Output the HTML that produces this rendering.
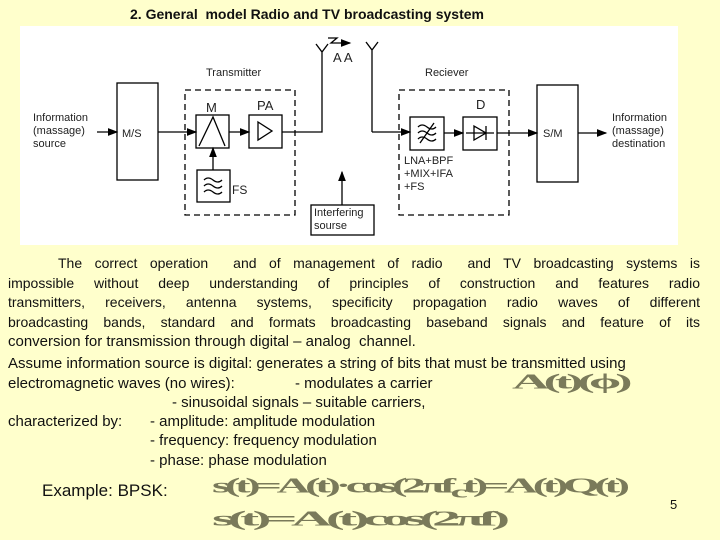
<!DOCTYPE html><html><head><style>
body{margin:0;width:720px;height:540px;background:#ffffcc;position:relative;overflow:hidden;font-family:"Liberation Sans",sans-serif;color:#111}
.t{position:absolute;white-space:nowrap}
.p{position:absolute;left:8px;width:692px;font-size:14px;text-align:justify;text-align-last:justify;white-space:nowrap}
.f{position:absolute;color:#7a7a5a;font-family:"Liberation Serif",serif;font-weight:bold;font-size:26px;letter-spacing:-3px;transform-origin:0 0}
</style></head><body>
<div class="t" style="left:130px;top:6px;font-size:14px;font-weight:bold">2. General&nbsp; model Radio and TV broadcasting system</div>
<svg style="position:absolute;left:0;top:0" width="720" height="540" font-family="Liberation Sans" font-size="11">
<defs><marker id="a" markerWidth="8" markerHeight="6" refX="7" refY="3" orient="auto"><path d="M0,0L8,3L0,6z" fill="#000"/></marker></defs>
<rect x="20" y="26" width="658" height="219" fill="#fff"/>
<g stroke="#000" fill="none" stroke-width="1.3">
<rect x="117" y="83" width="41" height="97"/>
<rect x="185" y="90" width="110" height="125" stroke-dasharray="6,4"/>
<rect x="196" y="115" width="33" height="33"/>
<path d="M199,146L213,117L225,146"/>
<rect x="249" y="115" width="33" height="33"/>
<path d="M258,122L272,131L258,140z"/>
<rect x="197" y="170" width="33" height="32"/>
<path d="M204,180q4,-4 9,0t9,0M204,186q4,-4 9,0t9,0M204,192q4,-4 9,0t9,0"/>
<path d="M97,132H117" marker-end="url(#a)"/>
<path d="M158,132H196" marker-end="url(#a)"/>
<path d="M229,132H249" marker-end="url(#a)"/>
<path d="M213,170V148" marker-end="url(#a)"/>
<path d="M282,132H322V52M316,44L322,52L328,44"/>
<path d="M372,132V50M366,42L372,50L378,42"/>
<path d="M328,38H337L331,43H350" marker-end="url(#a)"/>
<rect x="311" y="205" width="63" height="30"/>
<path d="M342,205V172" marker-end="url(#a)"/>
<rect x="399" y="90" width="110" height="125" stroke-dasharray="6,4"/>
<path d="M372,132H410" marker-end="url(#a)"/>
<rect x="410" y="117" width="34" height="33"/>
<path d="M418,127q4,-4 9,0t9,0M418,133q4,-4 9,0t9,0M418,139q4,-4 9,0t9,0M420,143L434,123"/>
<rect x="463" y="117" width="34" height="33"/>
<path d="M444,133H463" marker-end="url(#a)"/>
<path d="M466,133H494M474,126L486,133L474,140zM486,126V140"/>
<path d="M497,133H537" marker-end="url(#a)"/>
<rect x="537" y="85" width="41" height="97"/>
<path d="M578,133H606" marker-end="url(#a)"/>
</g>
<g fill="#222">
<text x="206" y="76">Transmitter</text>
<text x="425" y="76">Reciever</text>
<text x="206" y="112" font-size="13">M</text>
<text x="257" y="110" font-size="13">PA</text>
<text x="232" y="194" font-size="12">FS</text>
<text x="122" y="137">M/S</text>
<text x="543" y="137">S/M</text>
<text x="476" y="109" font-size="13">D</text>
<text x="33" y="121">Information</text><text x="33" y="134">(massage)</text><text x="33" y="147">source</text>
<text x="612" y="121">Information</text><text x="612" y="134">(massage)</text><text x="612" y="147">destination</text>
<text x="404" y="164">LNA+BPF</text><text x="404" y="177">+MIX+IFA</text><text x="404" y="190">+FS</text>
<text x="314" y="216">Interfering</text><text x="314" y="229">sourse</text>
<text x="333" y="62" font-size="13">A A</text>
</g>
</svg>
<div class="p" style="top:255px;width:642px;left:58px">The correct operation&nbsp; and of management of radio&nbsp; and TV broadcasting systems is</div>
<div class="p" style="top:275px">impossible without deep understanding of principles of construction and features radio</div>
<div class="p" style="top:294px">transmitters, receivers, antenna systems, specificity propagation radio waves of different</div>
<div class="p" style="top:314px">broadcasting bands, standard and formats broadcasting baseband signals and feature of its</div>
<div class="t" style="left:8px;top:333px;font-size:15px">conversion for transmission through digital – analog&nbsp; channel.</div>
<div class="t" style="left:8px;top:355px;font-size:15px">Assume information source is digital: generates a string of bits that must be transmitted using</div>
<div class="t" style="left:8px;top:375px;font-size:15px">electromagnetic waves (no wires):</div>
<div class="t" style="left:295px;top:375px;font-size:15px">- modulates a carrier</div>
<div class="t" style="left:172px;top:394px;font-size:15px">- sinusoidal signals – suitable carriers,</div>
<div class="t" style="left:8px;top:413px;font-size:15px">characterized by:</div>
<div class="t" style="left:150px;top:413px;font-size:15px">- amplitude: amplitude modulation</div>
<div class="t" style="left:150px;top:432px;font-size:15px">- frequency: frequency modulation</div>
<div class="t" style="left:150px;top:452px;font-size:15px">- phase: phase modulation</div>
<div class="t" style="left:42px;top:481px;font-size:17px">Example: BPSK:</div>
<div class="t" style="left:670px;top:497px;font-size:13px">5</div>
<div class="f" style="left:512px;top:370px;transform:scale(2,0.8)">A(t)(ϕ)</div>
<div class="f" style="left:212px;top:474px;transform:scale(1.8,0.8)">s(t)=A(t)·cos(2πf<sub>c</sub>t)=A(t)Q(t)</div>
<div class="f" style="left:212px;top:507px;transform:scale(2.2,0.8)">s(t)=A(t)cos(2πf)</div>
</body></html>
